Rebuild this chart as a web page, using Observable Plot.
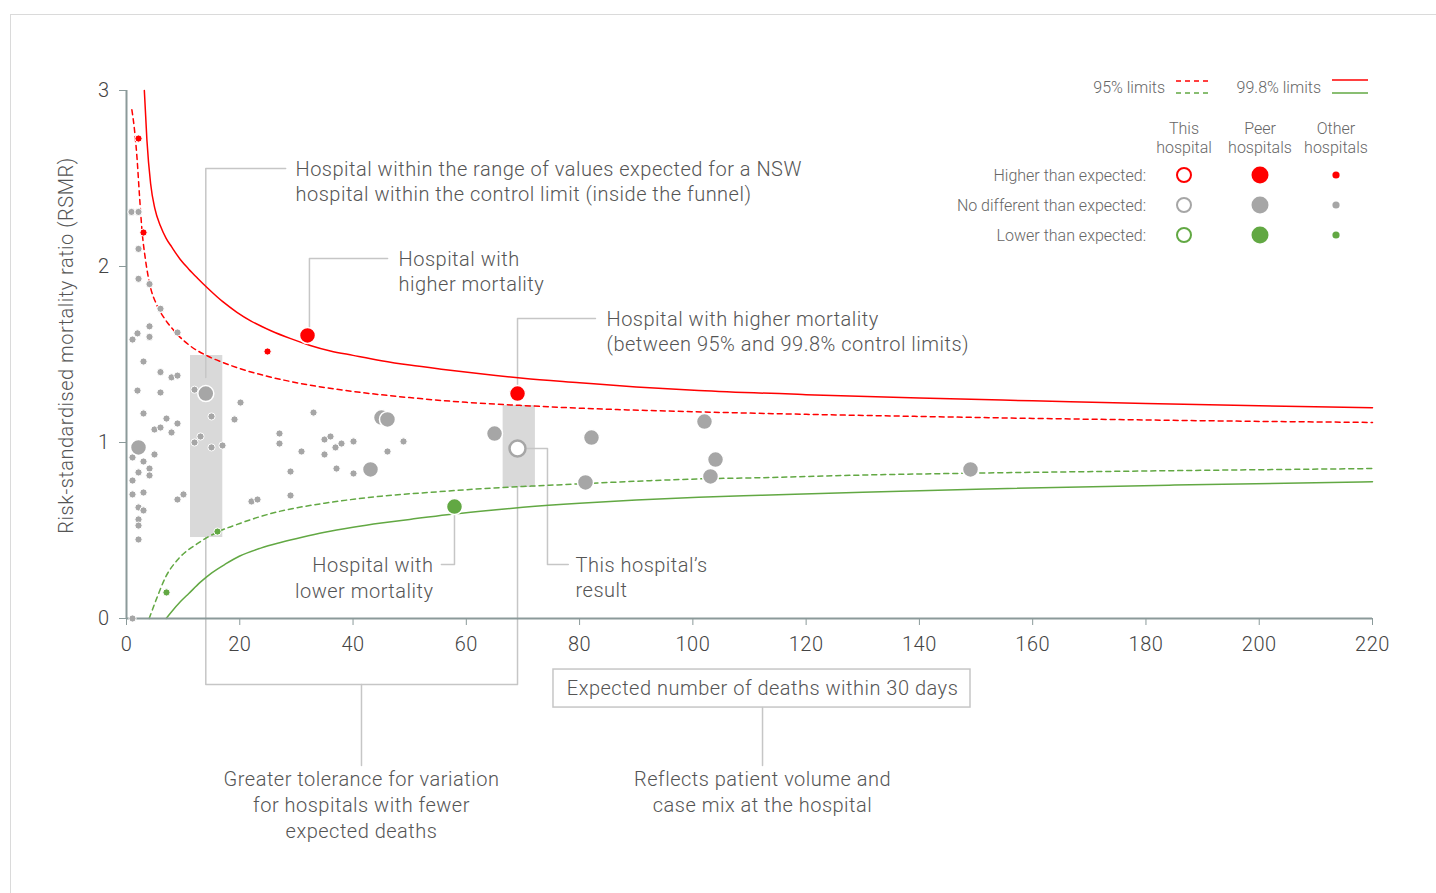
<!DOCTYPE html>
<html><head><meta charset="utf-8">
<script src="https://cdn.jsdelivr.net/npm/d3@7"></script>
<script src="https://cdn.jsdelivr.net/npm/@observablehq/plot@0.6"></script>
<style>
html,body{margin:0;padding:0;background:#fff;overflow:hidden;}
#wrap{position:relative;width:1436px;height:893px;overflow:hidden;}
#frame{position:absolute;left:10px;top:14px;width:1500px;height:1000px;border-top:1px solid #dadada;border-left:1px solid #dadada;}
#chart{position:absolute;left:0;top:0;}
#chart text{letter-spacing:0.5px;}
#legend{position:absolute;left:0;top:0;}
</style></head><body>
<div id="wrap"><div id="frame"></div><div id="chart"></div><svg id="legend" width="1436" height="260"></svg></div>
<script>
const FONT = "Roboto, 'Liberation Sans', Arial, sans-serif";
const RED = "#ff0000", GRAY = "#a6a6a6", GREEN = "#62a843";

// status categories
const statusKeys = ["higher", "nodiff", "lower"];
const statusLabels = ["Higher than expected:", "No different than expected:", "Lower than expected:"];
const statusColors = [RED, GRAY, GREEN];

// axes ticks
const xTicks = [0, 20, 40, 60, 80, 100, 120, 140, 160, 180, 200, 220];
const yTicks = [0, 1, 2, 3];

// control limits
const upper998E = [3.15, 3.6, 4.26, 5, 6, 7, 8, 9.5, 11, 12.5, 14.4, 17, 19.5, 22, 25.5, 29, 32.3, 36, 40, 45, 50, 56, 62.5, 70, 80, 90, 101, 120, 140, 160, 180, 200, 220];
const upper998R = [3.0, 2.72, 2.47, 2.33, 2.23, 2.16, 2.11, 2.04, 1.985, 1.935, 1.875, 1.80, 1.74, 1.69, 1.635, 1.59, 1.553, 1.52, 1.495, 1.465, 1.44, 1.415, 1.39, 1.365, 1.34, 1.316, 1.296, 1.272, 1.253, 1.237, 1.222, 1.209, 1.197];
const upper95E = [0.95, 1.4, 1.85, 2.3, 2.75, 3.3, 4.25, 5.3, 6.7, 8, 9.1, 11, 14.4, 17, 20, 25, 30, 40, 50, 60, 70, 80, 100, 120, 140, 160, 180, 200, 220];
const upper95R = [2.89, 2.78, 2.62, 2.40, 2.20, 2.05, 1.88, 1.785, 1.705, 1.65, 1.61, 1.555, 1.49, 1.455, 1.42, 1.375, 1.34, 1.29, 1.255, 1.228, 1.21, 1.195, 1.175, 1.16, 1.148, 1.137, 1.128, 1.12, 1.114];
const lower95E = [4.0, 5.4, 6.9, 9.2, 12.5, 16, 20, 23.7, 27.2, 35, 45, 55, 62.5, 70, 80, 90, 101, 112, 130, 150, 185, 220];
const lower95R = [0, 0.12, 0.235, 0.34, 0.425, 0.49, 0.54, 0.58, 0.61, 0.655, 0.695, 0.72, 0.737, 0.75, 0.765, 0.78, 0.793, 0.80, 0.815, 0.826, 0.84, 0.852];
const lower998E = [7, 8, 9.5, 11, 13, 15, 17.5, 20, 23.7, 27.2, 31, 35, 40, 45, 50, 56.6, 62.5, 70, 80, 90, 101, 112, 130, 150, 185, 220];
const lower998R = [0, 0.04, 0.095, 0.142, 0.205, 0.258, 0.31, 0.355, 0.40, 0.432, 0.462, 0.49, 0.518, 0.542, 0.563, 0.59, 0.61, 0.632, 0.655, 0.673, 0.689, 0.70, 0.718, 0.735, 0.758, 0.777];

// other hospitals
const otherE = [0.88, 2.12, 2.12, 2.12, 4.06, 6.00, 1.94, 1.06, 4.06, 4.06, 9.00, 3.00, 6.00, 7.95, 9.00, 1.94, 6.00, 3.00, 7.06, 4.94, 6.00, 9.00, 7.95, 19.07, 20.13, 4.94, 12.01, 15.01, 13.07, 12.01, 15.01, 16.95, 1.06, 3.00, 2.12, 1.06, 4.06, 4.06, 1.06, 3.00, 2.12, 3.00, 2.12, 2.12, 2.12, 9.00, 10.06, 22.07, 23.13, 1.06, 33.02, 27.01, 27.01, 30.90, 34.96, 36.02, 36.90, 37.96, 40.08, 34.96, 28.96, 37.08, 40.08, 46.08, 48.91, 28.96, 2.12, 3.00, 24.90, 16.07, 7.06];
const otherR = [2.31, 2.31, 2.10, 1.93, 1.90, 1.76, 1.62, 1.585, 1.66, 1.60, 1.625, 1.46, 1.40, 1.37, 1.38, 1.295, 1.284, 1.165, 1.136, 1.074, 1.085, 1.108, 1.057, 1.131, 1.227, 0.932, 1.30, 1.148, 1.034, 1.00, 0.972, 0.983, 0.915, 0.892, 0.83, 0.784, 0.852, 0.813, 0.705, 0.716, 0.631, 0.614, 0.563, 0.528, 0.449, 0.676, 0.705, 0.665, 0.676, 0.0, 1.17, 1.051, 0.994, 0.949, 1.017, 1.034, 0.972, 0.994, 1.006, 0.932, 0.835, 0.852, 0.824, 0.949, 1.006, 0.699, 2.727, 2.193, 1.517, 0.494, 0.148];
const otherStatus = Array(66).fill("nodiff").concat(["higher", "higher", "higher", "lower", "lower"]);

// peer hospitals
const peerE = [14.0, 2.12, 45.02, 46.08, 43.08, 64.98, 82.10, 81.04, 102.05, 104.00, 103.11, 149.02, 31.96, 69.04, 57.91];
const peerR = [1.278, 0.972, 1.142, 1.131, 0.847, 1.051, 1.028, 0.773, 1.119, 0.903, 0.807, 0.847, 1.608, 1.278, 0.636];
const peerStatus = ["nodiff","nodiff","nodiff","nodiff","nodiff","nodiff","nodiff","nodiff","nodiff","nodiff","nodiff","nodiff","higher","higher","lower"];

// this hospital
const thisE = [69.04], thisR = [0.966], thisStatus = ["nodiff"];

// 95% ranges highlighted for two example hospitals
const bandX1 = [11.3, 66.5], bandX2 = [17.0, 72.2], bandY1 = [0.46, 0.744], bandY2 = [1.494, 1.21];

// annotation leader paths (data units)
const annoPaths = [
  [[14.0, 1.37], [14.0, 2.557], [28.1, 2.557]],
  [[32.3, 1.655], [32.3, 2.045], [46.1, 2.045]],
  [[69.04, 1.33], [69.04, 1.705], [82.8, 1.705]],
  [[57.91, 0.59], [57.91, 0.307], [55.6, 0.307]],
  [[70.8, 0.966], [74.33, 0.966], [74.33, 0.307], [78.0, 0.307]],
  [[14.0, 0.46], [14.0, -0.375], [69.04, -0.375], [69.04, 0.744]],
  [[41.49, -0.375], [41.49, -0.835]],
  [[112.3, -0.506], [112.3, -0.835]]
];
const annoStartText = ["Hospital within the range of values expected for a NSW\nhospital within the control limit (inside the funnel)", "Hospital with\nhigher mortality", "Hospital with higher mortality\n(between 95% and 99.8% control limits)", "This hospital’s\nresult"];
const annoStartX = [29.84, 48.03, 84.75, 79.28];
const annoStartY = [2.49, 1.978, 1.638, 0.237];
const annoEndText = ["Hospital with\nlower mortality"];
const annoEndX = [54.2], annoEndY = [0.237];
const annoMidText = ["Greater tolerance for variation\nfor hospitals with fewer\nexpected deaths", "Reflects patient volume and\ncase mix at the hospital"];
const annoMidX = [41.49, 112.3], annoMidY = [-1.051, -0.978];
const xLabel = "Expected number of deaths within 30 days";
const yLabel = "Risk-standardised mortality ratio (RSMR)";
const xLabelBox = {x1: 75.39, x2: 149.02, y1: -0.29, y2: -0.506, cx: 112.3, cy: -0.40};

const toRows = (E, R) => E.map((e, i) => ({E: e, R: R[i]}));
const others = otherE.map((e, i) => ({E: e, R: otherR[i], s: otherStatus[i]}));
const peers = peerE.map((e, i) => ({E: e, R: peerR[i], s: peerStatus[i]}));
const thisH = thisE.map((e, i) => ({E: e, R: thisR[i], s: thisStatus[i]}));
const bands = bandX1.map((x, i) => ({x1: x, x2: bandX2[i], y1: bandY1[i], y2: bandY2[i]}));
const annoSeg = annoPaths.flatMap((p, k) => p.map(([E, R]) => ({E, R, k})));
const LINE = "#c6c6c6", AX = "#8b9a9a", TXT = "#555";

const chart = Plot.plot({
  width: 1436, height: 893,
  marginTop: 90, marginRight: 64, marginBottom: 275, marginLeft: 126,
  x: {domain: [0, 220]},
  y: {domain: [0, 3]},
  color: {domain: statusKeys, range: statusColors},
  style: {fontFamily: FONT, fontWeight: 300, fontSize: "20px", background: "transparent", overflow: "visible"},
  marks: [
    Plot.rect(bands, {x1: "x1", x2: "x2", y1: "y1", y2: "y2", fill: "#d9d9d9"}),
    Plot.line(annoSeg, {x: "E", y: "R", z: "k", stroke: LINE, strokeWidth: 1.5, curve: "linear"}),
    Plot.rect([xLabelBox], {x1: "x1", x2: "x2", y1: "y1", y2: "y2", fill: "none", stroke: LINE, strokeWidth: 1.5}),
    Plot.line(toRows(upper998E, upper998R), {x: "E", y: "R", stroke: RED, strokeWidth: 1.5, curve: "monotone-x"}),
    Plot.line(toRows(upper95E, upper95R), {x: "E", y: "R", stroke: RED, strokeWidth: 1.5, strokeDasharray: "5,4", curve: "monotone-x"}),
    Plot.line(toRows(lower95E, lower95R), {x: "E", y: "R", stroke: GREEN, strokeWidth: 1.5, strokeDasharray: "5,4", curve: "monotone-x"}),
    Plot.line(toRows(lower998E, lower998R), {x: "E", y: "R", stroke: GREEN, strokeWidth: 1.5, curve: "monotone-x"}),
    Plot.ruleX([0], {stroke: AX, strokeWidth: 2}),
    Plot.ruleY([0], {stroke: AX, strokeWidth: 2}),
    Plot.axisX({ticks: xTicks, tickSize: 7, tickPadding: 11, stroke: AX, fill: "#444", fontSize: 20, label: null}),
    Plot.axisY({ticks: yTicks, tickFormat: d3.format("d"), tickSize: 7, tickPadding: 10, stroke: AX, fill: "#444", fontSize: 20, label: null}),
    Plot.dot(others, {x: "E", y: "R", fill: "s", r: 3.6, stroke: "white", strokeWidth: 1}),
    Plot.dot(peers, {x: "E", y: "R", fill: "s", r: 8, stroke: "white", strokeWidth: 1.5}),
    Plot.dot(thisH, {x: "E", y: "R", fill: "white", stroke: "s", r: 8, strokeWidth: 2.5}),
    Plot.text(annoStartText, {x: (d, i) => annoStartX[i], y: (d, i) => annoStartY[i], text: d => d, textAnchor: "start", lineAnchor: "middle", lineHeight: 1.25, fontSize: 20, fill: TXT}),
    Plot.text(annoEndText, {x: (d, i) => annoEndX[i], y: (d, i) => annoEndY[i], text: d => d, textAnchor: "end", lineAnchor: "middle", lineHeight: 1.3, fontSize: 20, fill: TXT}),
    Plot.text(annoMidText, {x: (d, i) => annoMidX[i], y: (d, i) => annoMidY[i], text: d => d, textAnchor: "middle", lineAnchor: "middle", lineHeight: 1.3, fontSize: 20, fill: TXT}),
    Plot.text([xLabel], {x: xLabelBox.cx, y: xLabelBox.cy, text: d => d, textAnchor: "middle", lineAnchor: "middle", fontSize: 20, fill: TXT}),
    Plot.text([yLabel], {frameAnchor: "left", text: d => d, rotate: -90, dx: -60, dy: -9, textAnchor: "middle", lineAnchor: "middle", fontSize: 20, fill: TXT})
  ]
});
document.getElementById("chart").appendChild(chart);

// legend
const colHeads = [["This", "hospital"], ["Peer", "hospitals"], ["Other", "hospitals"]];
const colX = [1184, 1260, 1336];
const rowY = [175, 205, 235];
const lg = d3.select("#legend").style("font-family", FONT).style("font-weight", 300);
const LT = "#666";
lg.append("text").attr("x", 1165).attr("y", 87).attr("dy", "0.35em").attr("text-anchor", "end").attr("font-size", 16).attr("fill", LT).text("95% limits");
lg.append("text").attr("x", 1321).attr("y", 87).attr("dy", "0.35em").attr("text-anchor", "end").attr("font-size", 16).attr("fill", LT).text("99.8% limits");
[[RED, 81], [GREEN, 93]].forEach(([c, y]) => {
  lg.append("line").attr("x1", 1176).attr("x2", 1209).attr("y1", y).attr("y2", y).attr("stroke", c).attr("stroke-width", 1.5).attr("stroke-dasharray", "5,4");
});
[[RED, 80], [GREEN, 93]].forEach(([c, y]) => {
  lg.append("line").attr("x1", 1332).attr("x2", 1368).attr("y1", y).attr("y2", y).attr("stroke", c).attr("stroke-width", 1.5);
});
colHeads.forEach((h, j) => {
  h.forEach((t, k) => lg.append("text").attr("x", colX[j]).attr("y", 128 + k * 19).attr("dy", "0.35em").attr("text-anchor", "middle").attr("font-size", 16).attr("fill", LT).text(t));
});
statusLabels.forEach((t, i) => {
  lg.append("text").attr("x", 1146).attr("y", rowY[i]).attr("dy", "0.35em").attr("text-anchor", "end").attr("font-size", 16).attr("fill", LT).text(t);
  lg.append("circle").attr("cx", colX[0]).attr("cy", rowY[i]).attr("r", 7).attr("fill", "white").attr("stroke", statusColors[i]).attr("stroke-width", 2);
  lg.append("circle").attr("cx", colX[1]).attr("cy", rowY[i]).attr("r", 8.5).attr("fill", statusColors[i]);
  lg.append("circle").attr("cx", colX[2]).attr("cy", rowY[i]).attr("r", 3.6).attr("fill", statusColors[i]);
});
</script>
</body></html>
